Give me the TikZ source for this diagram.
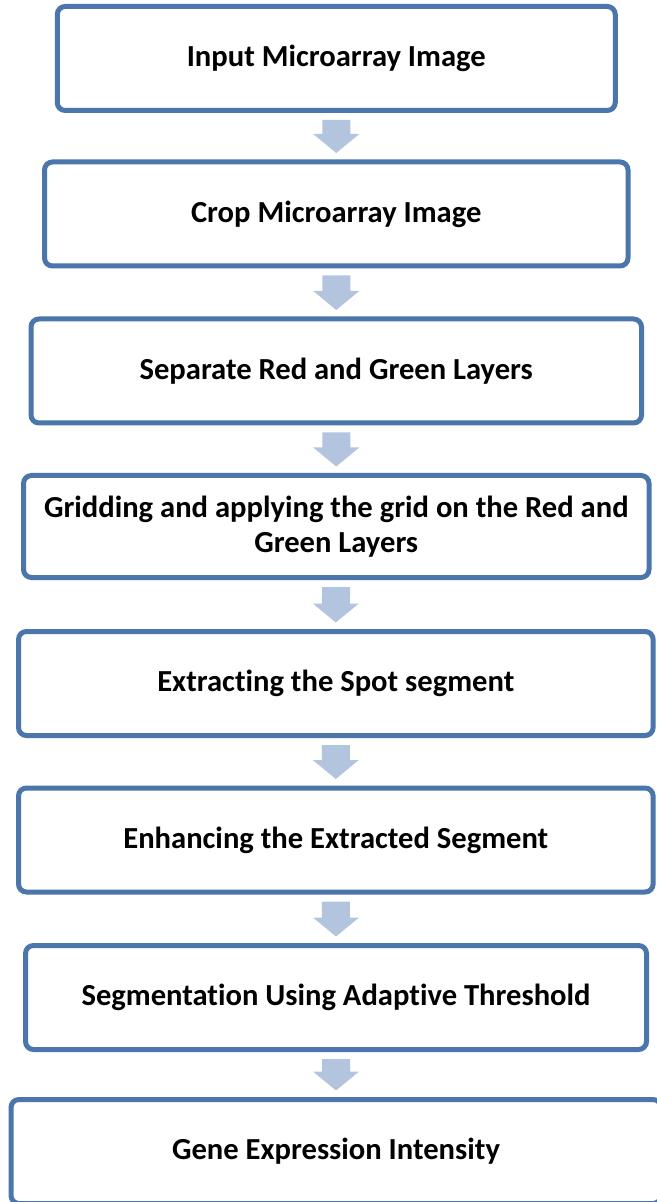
\documentclass[tikz,border=0pt]{standalone}
\usepackage{fontspec}
\setmainfont{Carlito}[Ligatures=NoCommon]
\usepackage{xcolor}
\usepackage{tikz}
\usetikzlibrary{calc}
\definecolor{boxblue}{HTML}{4A76AB}
\definecolor{arrowblue}{HTML}{B3C4DE}
\tikzset{
	stage/.style={
			draw=boxblue, line width=2.5pt, rounded corners=4pt, fill=white,
			minimum height=52pt, align=center, inner sep=0pt,
			font=\fontsize{15.3}{17.5}\selectfont\bfseries
		},
	blockarrow/.style={fill=arrowblue, draw=none}
}

\begin{document}
\begin{tikzpicture}[x=0.5pt,y=-0.5pt]
        \clip (0,0) rectangle (657,1202);
        \fill[white] (0,0) rectangle (657,1202);

        % Stages
        \node[stage, minimum width=279pt]   (input)   at (336.25,58.5)  {Input Microarray Image};
        \node[stage, minimum width=291.75pt] (crop)   at (336.25,214)   {Crop Microarray Image};
        \node[stage, minimum width=305.25pt] (layers) at (336.25,371)   {Separate Red and Green Layers};
        \node[stage, minimum width=312.75pt, minimum height=51pt] (grid) at (336.25,526.5)
            {Gridding and applying the grid on the Red and\\Green Layers};
        \node[stage, minimum width=317.3pt] (spot)    at (335.8,683.5)  {Extracting the Spot segment};
        \node[stage, minimum width=317.3pt] (enhance) at (335.8,840)    {Enhancing the Extracted Segment};
        \node[stage, minimum width=310.5pt] (thresh)  at (336,997.5)    {Segmentation Using Adaptive Threshold};
        \node[stage, minimum width=325pt]   (gene)    at (336,1151.5)   {Gene Expression Intensity};

        % Block arrows
        \foreach \a/\b in {input/crop, crop/layers, layers/grid, grid/spot,
                           spot/enhance, enhance/thresh, thresh/gene} {
            \fill[blockarrow] ($(\a.south)+(-7pt,-3.5pt)$) -- ($(\a.south)+(7pt,-3.5pt)$)
                -- ($(\b.north)+(7pt,12.75pt)$) -- ($(\b.north)+(11.5pt,12.75pt)$)
                -- ($(\b.north)+(0,3.25pt)$)
                -- ($(\b.north)+(-11.5pt,12.75pt)$) -- ($(\b.north)+(-7pt,12.75pt)$) -- cycle;
        }

    \end{tikzpicture}
\end{document}
